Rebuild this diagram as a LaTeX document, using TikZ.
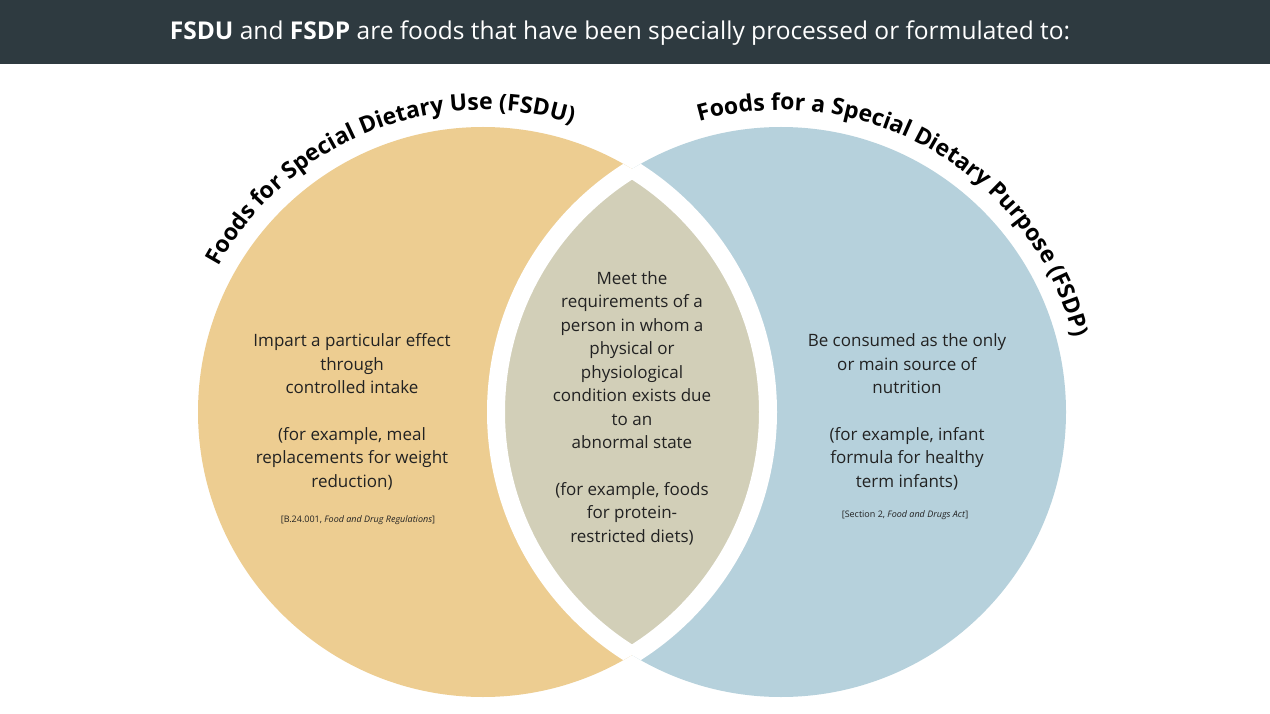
\documentclass[tikz,border=0pt]{standalone}
\usepackage{fontspec}
\setmainfont{Open Sans}
\usetikzlibrary{decorations.text}
\newfontfamily\titlefam{Open Sans}[UprightFont=* Bold]
\definecolor{bar}{HTML}{2E3A40}
\definecolor{orng}{HTML}{EDCD91}
\definecolor{blu}{HTML}{B6D1DC}
\definecolor{lens}{HTML}{D2CFB8}
\definecolor{txt}{HTML}{222222}
\begin{document}
\begin{tikzpicture}[x=1pt,y=-1pt,
  body/.style={align=center,text=txt,font=\fontsize{17}{23.5}\selectfont},
  cite/.style={text=txt,font=\fontsize{9}{11}\selectfont}]
\useasboundingbox (0,0) rectangle (1270,714);
\fill[white] (0,0) rectangle (1270,714);
\fill[bar] (0,0) rectangle (1270,64);
\node[text=white,font=\fontsize{24.5}{28}\selectfont] (hdr) at (620,33) {\textbf{FSDU} and \textbf{FSDP} are foods that have been specially processed or formulated to:};
\coordinate (L) at (483,412);
\coordinate (R) at (781,412);
\fill[orng] (L) circle[radius=285];
\fill[blu] (R) circle[radius=285];
\begin{scope}
  \clip (L) circle[radius=285];
  \fill[lens] (R) circle[radius=285];
  \draw[white,line width=18] (R) circle[radius=285];
\end{scope}
\begin{scope}
  \clip (R) circle[radius=285];
  \draw[white,line width=18] (L) circle[radius=285];
\end{scope}
% curved titles
\path[postaction={decorate},decoration={text along path,text align=center,
  text={|\titlefam\fontsize{23}{26}\selectfont|Foods for Special Dietary Use (FSDU)}}]
  ([shift={(-168:302)}]L) arc[start angle=-168,end angle=-56,radius=302];
\path[postaction={decorate},decoration={text along path,text align=center,
  text={|\titlefam\fontsize{23}{26}\selectfont|Foods for a Special Dietary Purpose (FSDP)}}]
  ([shift={(-124:302)}]R) arc[start angle=-124,end angle=4,radius=302];
\node[body] (lt) at (352,412) {Impart a particular effect\\through\\controlled intake\\[23pt](for example, meal\\replacements for weight\\reduction)};
\node[cite] (lc) at (358,520) {[B.24.001, \textit{Food and Drug Regulations}]};
\node[body] (mt) at (632,408) {Meet the\\requirements of a\\person in whom a\\physical or\\physiological\\condition exists due\\to an\\abnormal state\\[23pt](for example, foods\\for protein-\\restricted diets)};
\node[body] (rt) at (907,412) {Be consumed as the only\\or main source of\\nutrition\\[23pt](for example, infant\\formula for healthy\\term infants)};
\node[cite] (rc) at (905,515) {[Section 2, \textit{Food and Drugs Act}]};
\end{tikzpicture}
\end{document}
